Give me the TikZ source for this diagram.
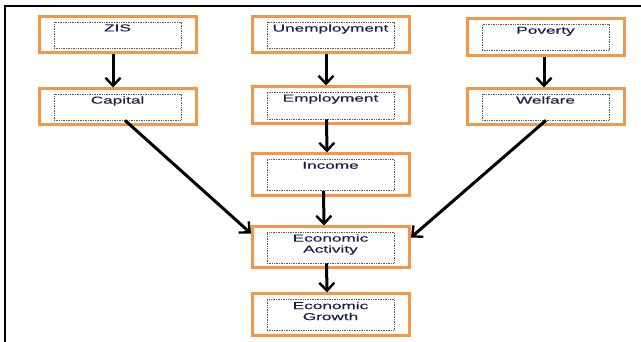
\documentclass[tikz,border=0pt]{standalone}
\usepackage{fontspec}
\setmainfont[FakeStretch=1.72,FakeBold=0.4]{Liberation Sans}
\usetikzlibrary{arrows.meta}
\definecolor{boxorange}{RGB}{247,150,70}
\definecolor{txtnavy}{RGB}{30,30,75}
\definecolor{dotgray}{RGB}{90,90,90}
\tikzset{
  outerbox/.style={draw=boxorange, line width=3pt, fill=white, minimum width=157pt, inner sep=0pt},
  innerbox/.style={draw=dotgray, densely dotted, line width=0.7pt, minimum width=127pt, inner sep=0pt},
  lbl/.style={font=\fontsize{10}{11}\selectfont, text=txtnavy, align=center, inner sep=0pt, anchor=north},
  arr/.style={line width=3pt, -{Straight Barb[length=8pt,width=15pt,line width=2.4pt]}},
}
\newcommand\mkbox[7]{%
  \node[outerbox, minimum height=#4pt] (#1) at (#2,#3) {};
  \node[innerbox, minimum height=#5pt] (#1i) at (#2-0.5,#3) {};
  \node[lbl] (#1t) at ([yshift=-2.5pt]#1i.north) {#6};
}
\begin{document}
\begin{tikzpicture}[x=1pt,y=-1pt]
\useasboundingbox (0,0) rectangle (641,342);
\coordinate (ftl) at (5,6);
\coordinate (ftr) at (641,6);
\coordinate (fbl) at (5,342);
\draw[line width=2.4pt] (ftr) -- (ftl) -- (fbl);

\mkbox{zis}{118}{35}{36}{26}{ZIS}{}
\mkbox{cap}{118}{107}{36}{26}{Capital}{}
\mkbox{unemp}{331}{35}{36}{26}{Unemployment}{}
\mkbox{emp}{331}{105.5}{37}{27}{Employment}{}
\mkbox{pov}{546}{37.5}{37}{26}{Poverty}{}
\mkbox{wel}{546}{107}{36}{26}{Welfare}{}
\mkbox{inc}{331}{175}{42}{31}{Income}{}
\mkbox{ea}{331}{247.5}{41}{31}{Economic\\Activity}{}
\mkbox{eg}{331}{315}{42}{31}{Economic\\Growth}{}

\draw[arr] ([xshift=-5pt]zis.south) -- ([xshift=-5pt]cap.north);
\draw[arr] ([xshift=-5pt]unemp.south) -- ([xshift=-5pt]emp.north);
\draw[arr] ([xshift=-2pt]pov.south) -- ([xshift=-2pt]wel.north);
\draw[arr] ([xshift=-4pt]empi.south) -- ([xshift=-4pt]inc.north);
\draw[arr] ([xshift=-7pt]inci.south) -- ([xshift=-7pt]ea.north);
\draw[arr] ([xshift=-4pt]eai.south) -- ([xshift=-4pt]eg.north);
\draw[arr] ([xshift=7.5pt]capi.south) -- ([yshift=14pt]ea.west);
\draw[arr] ([xshift=0.5pt]weli.south) -- ([yshift=10pt]ea.east);
\end{tikzpicture}
\end{document}
